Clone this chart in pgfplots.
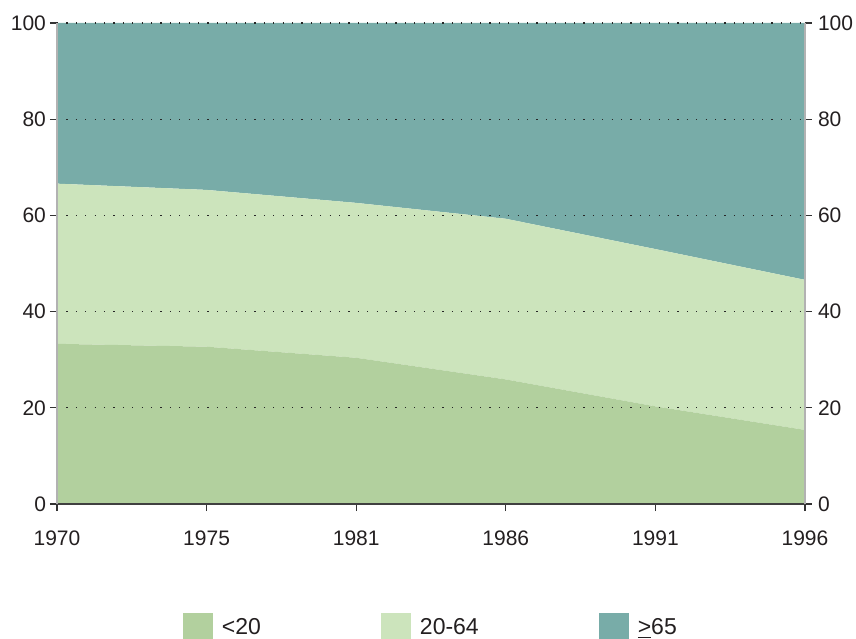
\documentclass[border=0pt]{standalone}
\usepackage{fontspec}
\setmainfont{Liberation Sans}
\usepackage{pgfplots}
\pgfplotsset{compat=1.18}
\definecolor{cA}{RGB}{178,208,158}
\definecolor{cB}{RGB}{204,228,188}
\definecolor{cC}{RGB}{120,172,168}
\definecolor{txt}{RGB}{35,31,32}
\begin{document}
\begin{tikzpicture}
\pgfplotsset{every axis/.append style={
  width=374pt, height=240.5pt, scale only axis,
  xmin=0, xmax=5, ymin=0, ymax=100,
  /pgf/number format/assume math mode=true,
  font=\fontsize{10.5}{12.5}\selectfont,
  tick label style={text=txt},
}}
\begin{axis}[
  name=ax,
  stack plots=y,
  axis on top,
  axis x line*=bottom, axis y line*=left,
  x axis line style={draw=black!75, line width=0.8pt},
  y axis line style={draw=black!30, line width=0.8pt},
  xtick={0,1,2,3,4,5},
  xticklabels={1970,1975,1981,1986,1991,1996},
  ytick={0,20,40,60,80,100},
  tick align=outside,
  major tick length=3.5pt,
  tick style={black!80, line width=0.6pt},
  xticklabel style={yshift=-6.5pt},
  yticklabel style={xshift=1.5pt},
  ymajorgrids,
  grid style={black!85, line width=0.6pt, dash pattern=on 0.6pt off 4.1pt},
  clip=false,
  legend columns=3,
  legend style={at={(rel axis cs:0.1684,-0.2578)}, anchor=west, draw=none, fill=none,
    inner sep=0pt, outer sep=0pt,
    font=\fontsize{11.5}{13}\selectfont, text=txt,
    nodes={inner sep=0pt},
    /tikz/every odd column/.append style={column sep=4.5pt},
    /tikz/every even column/.append style={column sep=60pt}},
  legend image code/.code={\fill[#1] (0pt,-7.5pt) rectangle (15pt,7.5pt);},
]
\addplot[fill=cA, draw=none] coordinates {(0,33.3) (1,32.7) (2,30.4) (3,25.9) (4,20.3) (5,15.4)} \closedcycle;
\addlegendentry{<20}
\addplot[fill=cB, draw=none] coordinates {(0,33.3) (1,32.6) (2,32.2) (3,33.4) (4,32.7) (5,31.2)} \closedcycle;
\addlegendentry{20-64}
\addplot[fill=cC, draw=none] coordinates {(0,33.4) (1,34.7) (2,37.4) (3,40.7) (4,47.0) (5,53.4)} \closedcycle;
\addlegendentry{\underline{>}65}
\coordinate (bl) at (rel axis cs:-0.0762,-0.2786);
\coordinate (tr) at (rel axis cs:1.0682,1.0478);
\end{axis}
\begin{axis}[
  axis y line*=right, axis x line=none,
  y axis line style={draw=black!30, line width=0.8pt},
  ytick={0,20,40,60,80,100},
  tick align=outside,
  major tick length=3.5pt,
  tick style={black!80, line width=0.6pt},
  yticklabel style={xshift=-0.5pt},
]
\addplot[draw=none] coordinates {(0,0)};
\end{axis}
\pgfresetboundingbox
\path[use as bounding box] (bl) rectangle (tr);
\end{tikzpicture}
\end{document}
